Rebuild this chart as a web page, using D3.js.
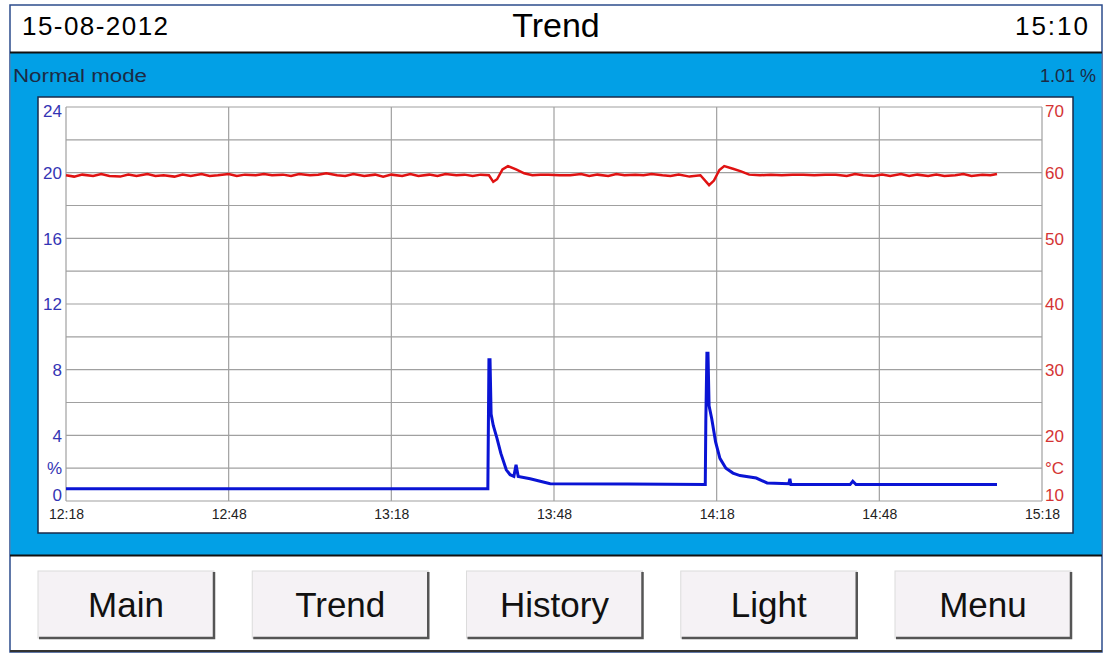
<!DOCTYPE html>
<html>
<head>
<meta charset="utf-8">
<script src="https://cdn.jsdelivr.net/npm/d3@7"></script>
<style>
  html, body { margin: 0; padding: 0; background: #fff; }
  svg { display: block; font-family: "Liberation Sans", Arial, sans-serif; }
</style>
</head>
<body>
<script>
// ---- data (minutes after 12:18) ----
var timeLabels = ["12:18", "12:48", "13:18", "13:48", "14:18", "14:48", "15:18"];
var pctTicks = [0, 4, 8, 12, 16, 20, 24];
var tempTicks = [10, 20, 30, 40, 50, 60, 70];
var buttons = ["Main", "Trend", "History", "Light", "Menu"];

// concentration %, blue
var pctMinutes = [0, 77.8, 78.0, 78.2, 78.4, 78.8, 79.5, 80.2, 81.2, 81.9, 82.6, 83.0, 83.4, 85.6, 89.3,
                  103.5, 117.9, 118.0, 118.2, 118.4, 118.6, 119.1, 119.8, 120.6, 121.7, 123.0, 124.3,
                  127.3, 129.3, 133.3, 133.5, 133.7, 144.6, 145.1, 145.7, 171.7];
var pctValues = [0.75, 0.75, 8.6, 8.6, 5.3, 4.6, 3.8, 2.9, 1.9, 1.6, 1.5, 2.2, 1.5, 1.35, 1.05,
                 1.03, 1.0, 4.9, 9.0, 9.0, 5.8, 5.0, 3.6, 2.6, 2.0, 1.7, 1.55,
                 1.4, 1.1, 1.05, 1.35, 1.0, 1.0, 1.2, 1.0, 1.0];

// temperature °C, red
var tempMinutes = [0, 1.5, 3, 5, 6.5, 8, 10, 11.5, 13, 15, 16.5, 18, 20, 21.5, 23, 25, 26.5, 28, 30, 31.5,
                   33, 35, 36.5, 38, 40, 41.5, 43, 45, 46.5, 48, 50, 51.5, 53, 55, 57, 58.5, 60, 62, 63.5,
                   65, 67, 68.5, 70, 72, 73.5, 75, 76.5, 78, 78.8, 79.5, 80.5, 81.5, 83, 84.5, 86, 87.5,
                   89, 91, 93, 95, 96.5, 98, 100, 101.5, 103, 105, 106.5, 108, 110, 111.5, 113, 115, 117,
                   118.6, 119.5, 120.5, 121.4, 123, 124.5, 126, 128, 130, 132, 134, 136, 138, 140, 142,
                   144, 145.5, 147, 149, 150.5, 152, 154, 155.5, 157, 159, 160.5, 162, 164, 165.5, 167,
                   169, 170.5, 171.7];
var tempValues = [59.6, 59.4, 59.7, 59.5, 59.8, 59.5, 59.4, 59.7, 59.5, 59.8, 59.5, 59.6, 59.4, 59.7, 59.5,
                  59.8, 59.5, 59.6, 59.8, 59.5, 59.7, 59.6, 59.8, 59.6, 59.7, 59.5, 59.8, 59.6, 59.7, 59.9,
                  59.6, 59.5, 59.8, 59.5, 59.7, 59.4, 59.7, 59.5, 59.8, 59.5, 59.7, 59.5, 59.8, 59.6, 59.7,
                  59.5, 59.7, 59.6, 58.6, 59.0, 60.5, 61.0, 60.5, 59.9, 59.6, 59.7, 59.7, 59.6, 59.6, 59.8,
                  59.5, 59.7, 59.5, 59.8, 59.6, 59.7, 59.6, 59.8, 59.6, 59.5, 59.7, 59.4, 59.6, 58.1, 58.8,
                  60.4, 61.0, 60.6, 60.2, 59.7, 59.6, 59.7, 59.6, 59.7, 59.7, 59.6, 59.7, 59.7, 59.5, 59.8,
                  59.6, 59.5, 59.7, 59.5, 59.8, 59.5, 59.7, 59.5, 59.7, 59.5, 59.6, 59.8, 59.5, 59.7, 59.6,
                  59.8];

var W = 1108, H = 656;
var svg = d3.select("body").append("svg").attr("width", W).attr("height", H);

// ---- frame ----
svg.append("rect").attr("x", 10).attr("y", 5).attr("width", 1092).attr("height", 647)
   .attr("fill", "#fff").attr("stroke", "#2c4c8c").attr("stroke-width", 1.5);
svg.append("rect").attr("x", 10.5).attr("y", 53).attr("width", 1091).attr("height", 502)
   .attr("fill", "#02a0e6");
svg.append("line").attr("x1", 10).attr("x2", 1102).attr("y1", 52.5).attr("y2", 52.5)
   .attr("stroke", "#111").attr("stroke-width", 2);
svg.append("line").attr("x1", 10).attr("x2", 1102).attr("y1", 555.5).attr("y2", 555.5)
   .attr("stroke", "#111").attr("stroke-width", 2);
svg.append("line").attr("x1", 10).attr("x2", 1102).attr("y1", 651).attr("y2", 651)
   .attr("stroke", "#333").attr("stroke-width", 2);

// header texts
svg.append("text").attr("x", 22).attr("y", 35).attr("font-size", 26)
   .attr("textLength", 146).attr("lengthAdjust", "spacing").text("15-08-2012");
svg.append("text").attr("x", 556).attr("y", 37).attr("font-size", 34)
   .attr("text-anchor", "middle").text("Trend");
svg.append("text").attr("x", 1090).attr("y", 35).attr("font-size", 26)
   .attr("text-anchor", "end").attr("letter-spacing", 2).text("15:10");

svg.append("text").attr("x", 13).attr("y", 82).attr("font-size", 18).attr("fill", "#1c2a44")
   .attr("textLength", 134).attr("lengthAdjust", "spacingAndGlyphs").text("Normal mode");
svg.append("text").attr("x", 1096).attr("y", 82).attr("font-size", 18).attr("fill", "#1c2a44")
   .attr("text-anchor", "end").text("1.01 %");

// ---- plot panel ----
svg.append("rect").attr("x", 38).attr("y", 97).attr("width", 1035).attr("height", 436)
   .attr("fill", "#fff").attr("stroke", "#1a2a4a").attr("stroke-width", 1.5);

var x = d3.scaleLinear().domain([0, 180]).range([66, 1042]);
var yPct = d3.scaleLinear().domain([0, 24]).range([501, 107]);
var yTemp = d3.scaleLinear().domain([10, 70]).range([501, 107]);

var grid = svg.append("g").attr("stroke", "#a0a0a0").attr("stroke-width", 1.2);
grid.selectAll("line.h").data(d3.range(0, 25, 2)).enter().append("line")
    .attr("x1", x(0)).attr("x2", x(180))
    .attr("y1", function (d) { return yPct(d); })
    .attr("y2", function (d) { return yPct(d); });
grid.selectAll("line.v").data(timeLabels).enter().append("line")
    .attr("x1", function (d, i) { return x(i * 30); })
    .attr("x2", function (d, i) { return x(i * 30); })
    .attr("y1", yPct(0)).attr("y2", yPct(24));

// left axis (%)
var leftAxis = svg.append("g").attr("transform", "translate(62,0)")
    .call(d3.axisLeft(yPct).tickValues(pctTicks).tickSize(0).tickPadding(0));
leftAxis.select(".domain").remove();
leftAxis.selectAll("text").attr("fill", "#3434b4").attr("font-size", 17)
    .attr("font-family", "Liberation Sans, Arial, sans-serif")
    .attr("dy", function (d) { return d === 24 ? "0.55em" : (d === 0 ? "-0.05em" : "0.35em"); });
svg.append("text").attr("x", 62).attr("y", yPct(2)).attr("dy", "0.35em")
   .attr("text-anchor", "end").attr("fill", "#3434b4").attr("font-size", 17).text("%");

// right axis (°C)
var rightAxis = svg.append("g").attr("transform", "translate(1045,0)")
    .call(d3.axisRight(yTemp).tickValues(tempTicks).tickSize(0).tickPadding(0));
rightAxis.select(".domain").remove();
rightAxis.selectAll("text").attr("fill", "#d43434").attr("font-size", 17)
    .attr("font-family", "Liberation Sans, Arial, sans-serif")
    .attr("dy", function (d) { return d === 70 ? "0.55em" : (d === 10 ? "-0.05em" : "0.35em"); });
svg.append("text").attr("x", 1045).attr("y", yTemp(15)).attr("dy", "0.35em")
   .attr("fill", "#d43434").attr("font-size", 17).text("°C");

// bottom axis (time)
var bottomAxis = svg.append("g").attr("transform", "translate(0,509)")
    .call(d3.axisBottom(x).tickValues(d3.range(0, 181, 30)).tickSize(0).tickPadding(0)
        .tickFormat(function (d, i) { return timeLabels[i]; }));
bottomAxis.select(".domain").remove();
bottomAxis.selectAll("text").attr("fill", "#222").attr("font-size", 14)
    .attr("font-family", "Liberation Sans, Arial, sans-serif");

// ---- series ----
var tempData = tempMinutes.map(function (m, i) { return [m, tempValues[i]]; });
var pctData = pctMinutes.map(function (m, i) { return [m, pctValues[i]]; });

svg.append("path").datum(tempData)
   .attr("fill", "none").attr("stroke", "#e01212").attr("stroke-width", 2.5)
   .attr("d", d3.line().x(function (d) { return x(d[0]); }).y(function (d) { return yTemp(d[1]); }));
svg.append("path").datum(pctData)
   .attr("fill", "none").attr("stroke", "#0a14d4").attr("stroke-width", 3)
   .attr("d", d3.line().x(function (d) { return x(d[0]); }).y(function (d) { return yPct(d[1]); }));

// ---- buttons ----
var bx = d3.scaleLinear().domain([0, 4]).range([38, 895]);
var btn = svg.selectAll("g.btn").data(buttons).enter().append("g")
    .attr("transform", function (d, i) { return "translate(" + bx(i) + ",571)"; });
btn.append("rect").attr("width", 176).attr("height", 67).attr("fill", "#f5f2f5")
   .attr("stroke", "#dcdcdc").attr("stroke-width", 1);
btn.append("path").attr("d", "M176,1 V67 H1").attr("fill", "none")
   .attr("stroke", "#555").attr("stroke-width", 2.5);
btn.append("text").attr("x", 88).attr("y", 46).attr("text-anchor", "middle")
   .attr("font-size", 35).attr("fill", "#111").text(function (d) { return d; });
</script>
</body>
</html>
